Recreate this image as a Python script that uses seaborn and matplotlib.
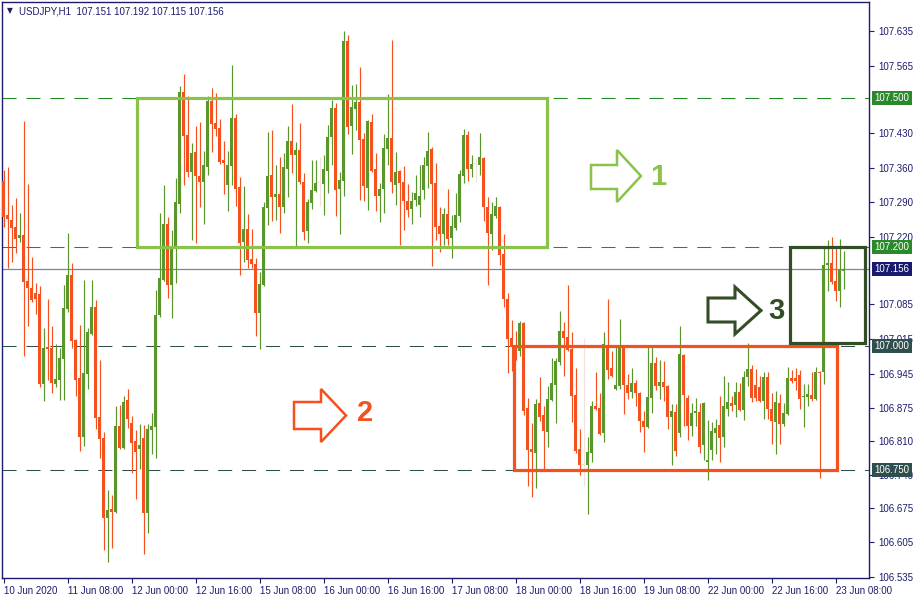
import numpy as np
import pandas as pd
import matplotlib
matplotlib.use("Agg")
import matplotlib.pyplot as plt
import matplotlib.transforms as mtransforms
from matplotlib.patches import Rectangle, Polygon
import seaborn as sns

sns.set_theme(style="white")
plt.rcParams['font.family'] = ['Liberation Sans', 'DejaVu Sans']

# ---------------- data (USDJPY H1) ----------------
opens = [
107.333,107.264,107.254,107.240,107.218,107.224,107.131,107.117,107.107,107.105,
106.924,106.998,106.996,106.924,106.932,106.975,107.075,107.144,107.012,106.936,
106.817,106.944,107.024,107.079,106.857,106.815,106.654,106.672,106.666,106.839,
106.795,106.892,106.845,106.809,106.793,106.815,106.664,106.831,106.837,107.063,
107.134,107.246,107.123,107.198,107.286,107.512,107.425,107.351,107.391,107.343,
107.331,107.361,107.494,107.449,107.439,107.375,107.325,107.363,107.460,107.321,
107.210,107.236,107.176,107.166,107.067,107.123,107.278,107.345,107.301,107.307,
107.280,107.357,107.413,107.385,107.395,107.331,107.232,107.288,107.313,107.329,
107.327,107.353,107.421,107.480,107.317,107.333,107.615,107.443,107.478,107.492,
107.417,107.319,107.452,107.357,107.303,107.317,107.398,107.419,107.325,107.353,
107.331,107.292,107.276,107.295,107.284,107.315,107.363,107.398,107.329,107.242,
107.226,107.266,107.218,107.238,107.262,107.343,107.425,107.357,107.367,107.365,
107.379,107.280,107.226,107.262,107.280,107.186,107.095,107.016,106.998,106.990,
107.046,106.875,106.793,106.785,106.885,106.861,106.827,106.892,106.922,106.968,
107.030,107.018,106.994,106.902,106.793,106.761,106.761,106.785,106.879,106.875,
106.825,107.002,106.956,106.914,106.920,106.998,106.922,106.908,106.926,106.906,
106.849,106.837,106.896,106.966,106.920,106.928,106.920,106.857,106.867,106.825,
106.983,106.896,106.839,106.865,106.867,106.801,106.767,106.791,106.825,106.841,
106.817,106.873,106.885,106.881,106.908,106.871,106.938,106.954,106.922,106.918,
106.889,106.938,106.873,106.847,106.885,106.843,106.863,106.936,106.936,106.942,
106.898,106.898,106.902,106.894,106.948,106.948,107.164,107.168,107.131,107.111,
107.151]
highs = [
107.355,107.361,107.284,107.299,107.268,107.454,107.327,107.180,107.127,107.121,
107.036,107.095,107.040,107.004,106.996,107.123,107.228,107.168,107.014,107.042,
107.134,107.036,107.134,107.093,106.972,106.827,106.710,106.700,106.879,106.881,
106.900,106.914,106.859,106.831,106.843,106.841,106.843,106.865,107.113,107.268,
107.325,107.260,107.234,107.339,107.524,107.548,107.504,107.409,107.443,107.451,
107.393,107.504,107.520,107.510,107.458,107.413,107.393,107.566,107.468,107.341,
107.323,107.266,107.236,107.178,107.150,107.290,107.432,107.435,107.365,107.381,
107.389,107.443,107.488,107.411,107.449,107.349,107.297,107.375,107.375,107.381,
107.385,107.445,107.496,107.490,107.351,107.635,107.627,107.526,107.528,107.562,
107.429,107.456,107.468,107.389,107.329,107.428,107.508,107.617,107.391,107.355,
107.363,107.327,107.311,107.345,107.365,107.381,107.432,107.402,107.369,107.280,
107.278,107.317,107.264,107.309,107.355,107.437,107.433,107.385,107.379,107.429,
107.381,107.301,107.290,107.301,107.282,107.226,107.107,107.052,107.030,107.050,
107.048,106.896,106.845,106.894,106.938,106.879,106.920,106.977,106.977,107.071,
107.048,107.123,107.028,106.956,106.833,107.016,106.817,106.889,106.948,106.906,
107.028,107.095,106.990,106.998,107.055,107.000,106.944,106.956,106.932,106.908,
106.869,106.998,106.998,106.979,106.972,106.970,106.922,106.883,106.883,107.040,
106.985,106.902,106.885,106.896,106.885,106.887,106.851,106.847,106.853,106.900,
106.940,106.928,106.900,106.928,106.926,106.950,107.006,106.962,106.954,106.940,
106.948,106.948,106.906,106.910,106.904,106.885,106.958,106.952,106.956,106.952,
106.924,106.924,106.948,106.958,106.950,107.200,107.214,107.220,107.198,107.216,
107.192]
lows = [
107.240,107.158,107.170,107.188,107.210,106.981,107.040,107.089,107.065,106.918,
106.889,106.932,106.906,106.918,106.892,106.892,107.069,106.996,106.900,106.789,
106.799,106.914,107.022,106.833,106.775,106.590,106.566,106.594,106.664,106.792,
106.793,106.835,106.745,106.692,106.753,106.582,106.624,106.783,106.775,107.059,
107.131,107.097,107.057,107.127,107.268,107.325,107.341,107.214,107.208,107.280,
107.246,107.345,107.391,107.423,107.368,107.307,107.272,107.325,107.282,107.144,
107.170,107.158,107.158,107.021,106.994,107.121,107.244,107.252,107.254,107.228,
107.268,107.301,107.349,107.198,107.327,107.214,107.208,107.276,107.311,107.282,
107.264,107.309,107.365,107.262,107.226,107.303,107.428,107.387,107.435,107.295,
107.292,107.274,107.350,107.272,107.250,107.268,107.365,107.309,107.284,107.204,
107.234,107.260,107.246,107.282,107.260,107.297,107.319,107.162,107.214,107.190,
107.204,107.204,107.178,107.234,107.250,107.329,107.333,107.341,107.331,107.345,
107.252,107.123,107.194,107.258,107.164,107.079,106.946,106.950,106.972,106.981,
106.861,106.718,106.696,106.714,106.849,106.753,106.797,106.890,106.845,106.962,
106.940,106.990,106.847,106.785,106.741,106.718,106.662,106.767,106.871,106.821,
106.807,106.934,106.938,106.912,106.914,106.863,106.894,106.896,106.879,106.827,
106.787,106.835,106.865,106.912,106.894,106.889,106.833,106.761,106.779,106.817,
106.839,106.811,106.819,106.839,106.785,106.771,106.730,106.771,106.783,106.767,
106.797,106.859,106.869,106.857,106.869,106.851,106.920,106.887,106.889,106.887,
106.853,106.853,106.803,106.783,106.803,106.839,106.861,106.926,106.912,106.873,
106.837,106.879,106.889,106.892,106.735,106.924,107.111,107.125,107.091,107.079,
107.115]
closes = [
107.260,107.256,107.238,107.216,107.224,107.129,107.117,107.093,107.095,106.924,
106.996,106.994,106.926,106.934,106.977,107.077,107.144,107.010,106.932,106.817,
106.946,107.028,107.079,106.855,106.813,106.654,106.670,106.666,106.839,106.795,
106.887,106.853,106.805,106.787,106.801,106.664,106.833,106.839,107.063,107.138,
107.246,107.123,107.200,107.290,107.512,107.423,107.351,107.389,107.343,107.331,
107.365,107.494,107.447,107.437,107.371,107.369,107.365,107.460,107.317,107.208,
107.236,107.174,107.166,107.067,107.125,107.280,107.343,107.301,107.307,107.280,
107.361,107.413,107.385,107.395,107.331,107.230,107.290,107.315,107.329,107.329,
107.357,107.421,107.480,107.315,107.335,107.615,107.442,107.482,107.492,107.415,
107.323,107.454,107.353,107.303,107.317,107.400,107.419,107.331,107.351,107.329,
107.292,107.274,107.292,107.309,107.303,107.365,107.393,107.327,107.240,107.226,
107.266,107.216,107.242,107.264,107.347,107.425,107.357,107.367,107.367,107.381,
107.280,107.228,107.266,107.282,107.184,107.095,107.014,106.998,106.990,107.046,
106.869,106.791,106.787,106.883,106.857,106.829,106.894,106.926,106.970,107.030,
107.016,106.992,106.900,106.789,106.761,106.761,106.787,106.879,106.873,106.823,
107.004,106.952,106.940,106.922,106.998,106.922,106.906,106.926,106.906,106.849,
106.837,106.898,106.966,106.920,106.928,106.918,106.857,106.869,106.789,106.985,
106.902,106.839,106.865,106.869,106.797,106.885,106.771,106.829,106.835,106.815,
106.879,106.887,106.879,106.908,106.871,106.938,106.954,106.896,106.896,106.889,
106.938,106.873,106.849,106.887,106.843,106.865,106.936,106.930,106.930,106.894,
106.900,106.904,106.894,106.948,106.946,107.164,107.168,107.129,107.111,107.154,
107.156]

time_labels = ["10 Jun 2020", "11 Jun 08:00", "12 Jun 00:00", "12 Jun 16:00",
               "15 Jun 08:00", "16 Jun 00:00", "16 Jun 16:00", "17 Jun 08:00",
               "18 Jun 00:00", "18 Jun 16:00", "19 Jun 08:00", "22 Jun 00:00",
               "22 Jun 16:00", "23 Jun 08:00"]
bars_per_label = 16
price_ticks = [107.635, 107.565, 107.430, 107.360, 107.290, 107.220, 107.085,
               107.015, 106.945, 106.875, 106.810, 106.740, 106.675, 106.605, 106.535]
level_values = [107.500, 107.200, 107.000, 106.750]
last_price = 107.156
title_text = "USDJPY,H1  107.151 107.192 107.115 107.156"

# zones: (x-start bar, x-end bar, low price, high price)
zone1 = (33.2, 135.9, 107.200, 107.500)
zone2 = (127.6, 208.4, 106.750, 107.000)
zone3 = (196.6, 215.4, 107.006, 107.200)

# ---------------- styling ----------------
NAVY = "#1c1c6e"
UP = "#5b962d"
DOWN = "#f4511e"
DOJI = "#f2e2da"
LGREEN = "#8bc34a"
DGREEN = "#334d27"
LVL_GREEN = "#1f8c1f"
LVL_SLATE = "#2f4f4f"

df = pd.DataFrame({"open": opens, "high": highs, "low": lows, "close": closes})
df["x"] = np.arange(len(df))
df["color"] = np.where(df.close > df.open, UP, np.where(df.close < df.open, DOWN, DOJI))
df["bottom"] = df[["open", "close"]].min(axis=1)
df["height"] = (df.close - df.open).abs().clip(lower=0.0021)

W, H = 915, 600
fig = plt.figure(figsize=(W / 100, H / 100), dpi=100)
ax = fig.add_axes([2 / W, 1 - 578 / H, 867 / W, 576 / H])
ax.set_facecolor("white")

# level lines
for lv, col in zip(level_values, [LVL_GREEN, LVL_GREEN, LVL_SLATE, LVL_SLATE]):
    ax.axhline(lv, color=col, lw=0.75, dashes=(13.5, 9.5), zorder=1)
ax.axhline(last_price, color="#778899", lw=0.9, zorder=1)

# candles
ax.vlines(df.x, df.low, df.high, colors=df.color, lw=0.85, zorder=2)
ax.bar(df.x, df.height, bottom=df.bottom, width=0.76, color=df.color, lw=0, zorder=3)

# zones
for (x0, x1, y0, y1), col in zip([zone1, zone2, zone3], [LGREEN, DOWN, DGREEN]):
    ax.add_patch(Rectangle((x0, y0), x1 - x0, y1 - y0, fill=False, ec=col,
                           lw=2.3, zorder=4, joinstyle="miter"))

ax.set_xlim(-0.425, 216.3)
ax.set_ylim(106.5331, 107.6934)

# axes styling
for s in ax.spines.values():
    s.set_color(NAVY)
    s.set_linewidth(1.0)
ax.yaxis.tick_right()
ax.set_yticks(price_ticks)
ax.set_yticklabels([f"{v:.3f}" for v in price_ticks])
tick_pos = np.arange(len(time_labels)) * bars_per_label
ax.set_xticks(tick_pos)
ax.set_xticklabels(time_labels)
for lbl in ax.get_xticklabels():
    lbl.set_ha("left")
ax.tick_params(axis="y", right=True, left=False, length=3.5, width=0.8, color=NAVY,
               labelsize=7, labelcolor=NAVY, pad=3)
ax.tick_params(axis="x", bottom=True, length=3.5, width=0.8, color=NAVY,
               labelsize=7, labelcolor=NAVY, pad=2.5)
ax.grid(False)

# price boxes on right axis
for lv, col in [(107.500, "#2a8a2a"), (107.200, "#2a8a2a"), (107.000, LVL_SLATE),
                (106.750, LVL_SLATE), (last_price, "#191970")]:
    ax.annotate(f"{lv:.3f}", xy=(1.0, lv), xycoords=("axes fraction", "data"),
                xytext=(4, 0), textcoords="offset points", ha="left", va="center",
                fontsize=7, color="white", annotation_clip=False, zorder=6,
                bbox=dict(boxstyle="square,pad=0.22", fc=col, ec="none"))

# arrows (figure pixel coordinates)
pix = mtransforms.Affine2D().scale(1 / W, -1 / H).translate(0, 1) + fig.transFigure

def block_arrow(x0, xn, xt, yb0, yb1, yh0, yh1, col, lw):
    yc = (yh0 + yh1) / 2
    pts = [(x0, yb0), (xn, yb0), (xn, yh0), (xt, yc), (xn, yh1), (xn, yb1), (x0, yb1)]
    fig.patches.append(Polygon(pts, closed=True, fill=False, ec=col, lw=lw,
                               joinstyle="miter", transform=pix, figure=fig))

block_arrow(591, 617, 641, 165, 189, 150, 202, LGREEN, 1.8)
block_arrow(294, 321, 346, 402, 429, 389, 442, DOWN, 1.8)
block_arrow(708, 735, 761, 298, 322, 287, 334, DGREEN, 2.2)

for txt, x, y, col in [("1", 658, 177, LGREEN), ("2", 365, 413, DOWN), ("3", 776, 311, DGREEN)]:
    fig.text(x / W, 1 - y / H, txt, fontsize=21, fontweight="bold", color=col,
             ha="center", va="center")

# title
fig.text(10 / W, 1 - 11 / H, "\u25BC", fontsize=5.5, color=NAVY, ha="center", va="center",
         family=["DejaVu Sans"])
fig.text(19 / W, 1 - 11 / H, title_text, fontsize=7, color=NAVY, ha="left", va="center")

fig.savefig("out.png", dpi=100, facecolor="white")
